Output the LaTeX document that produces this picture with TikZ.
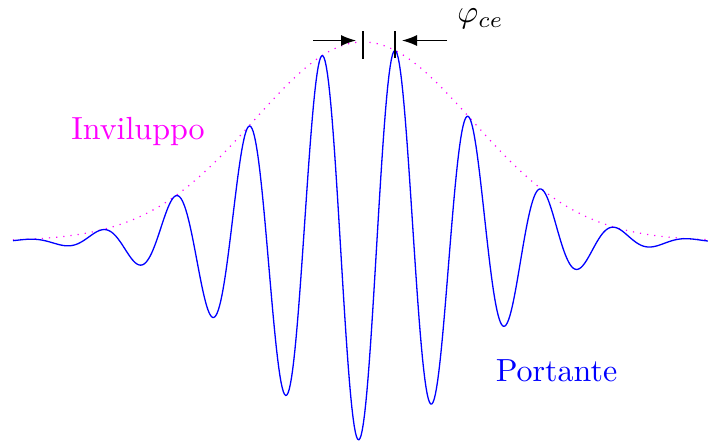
\documentclass[tikz,border=0pt]{standalone}
\usetikzlibrary{arrows.meta}
\definecolor{envmag}{RGB}{255,0,255}
\definecolor{carblue}{RGB}{0,0,255}
\begin{document}
\begin{tikzpicture}[x=1pt,y=-1pt,
  carrier/.style={carblue,line width=1.3pt,line join=round},
  envelope/.style={envmag,line width=1.2pt,dash pattern=on 1.2pt off 6pt},
  tick/.style={black,line width=1.2pt},
  marker/.style={black,line width=1.3pt,-{Latex[length=15pt,width=11pt]}},
  lbl/.style={scale=3.2,anchor=base,inner sep=0pt}]
\useasboundingbox (0,0) rectangle (708,440);
\draw[envelope] plot[domain=13:708,samples=200,smooth]
  (\x,{241-199*exp(-((\x-363)/154)^2)});
\draw[carrier] plot[domain=13:708,samples=600]
  (\x,{241-199*exp(-((\x-363)/154)^2)*cos((\x-395.3)*4.89796)});
\coordinate (t1a) at (363,31);
\coordinate (t1b) at (363,59);
\coordinate (t2a) at (395,31);
\coordinate (t2b) at (395,58);
\draw[tick] (t1a) -- (t1b);
\draw[tick] (t2a) -- (t2b);
\coordinate (a1s) at (313,40.5);
\coordinate (a1e) at (356,40.5);
\coordinate (a2s) at (447,40.5);
\coordinate (a2e) at (402,40.5);
\draw[marker] (a1s) -- (a1e);
\draw[marker] (a2s) -- (a2e);
\node[lbl] (phi) at (480.5,22.5) {$\varphi_{ce}$};
\node[lbl,text=envmag] (inv) at (138,139) {Inviluppo};
\node[lbl,text=carblue] (port) at (556.5,381) {Portante};
\end{tikzpicture}
\end{document}
